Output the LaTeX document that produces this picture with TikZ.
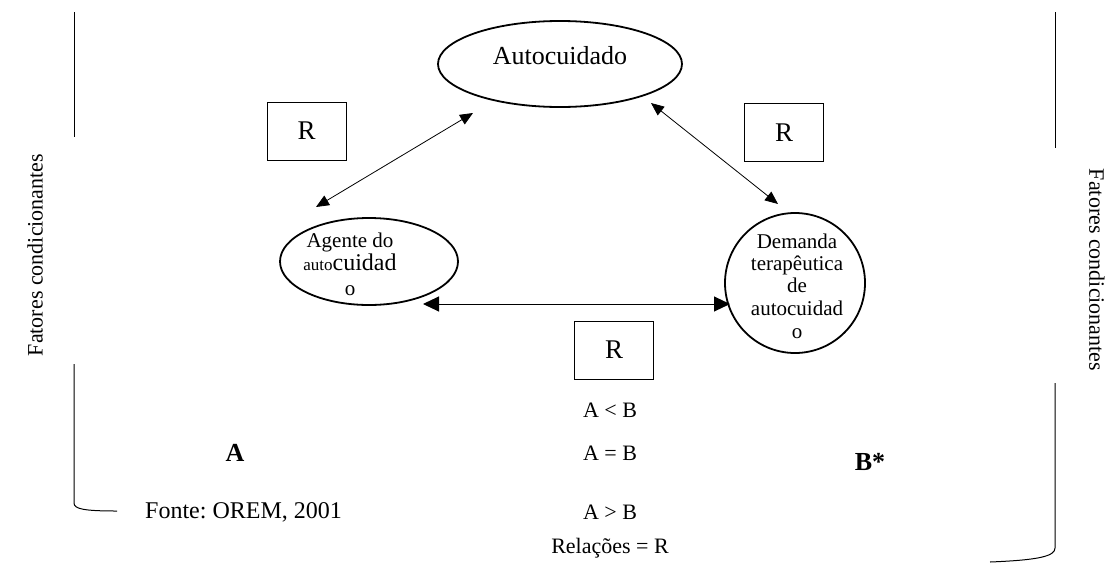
\documentclass[tikz,border=0pt]{standalone}
\usepackage{fontspec}
\setmainfont{Liberation Serif}
\usetikzlibrary{shapes.geometric,arrows.meta}
\frenchspacing
\begin{document}
\begin{tikzpicture}[x=1pt,y=-1pt,
  ell/.style={draw,ellipse,line width=1.8pt,inner sep=0pt},
  rbox/.style={draw,line width=0.8pt,minimum width=79pt,minimum height=58pt,inner sep=0pt,font=\fontsize{27}{30}\selectfont},
  conn/.style={line width=0.8pt,{Triangle[length=13pt,width=11pt]}-{Triangle[length=13pt,width=11pt]}},
  bigconn/.style={line width=1pt,{Triangle[length=16pt,width=15pt]}-{Triangle[length=16pt,width=15pt]}},
  brk/.style={line width=1pt},
  txt/.style={inner sep=0pt,anchor=base},
  ftA/.style={font=\fontsize{21}{24}\selectfont},
  ftS/.style={font=\fontsize{22}{24}\selectfont},
  ftB/.style={font=\fontsize{22}{26}\selectfont},
  ftBold/.style={font=\fontsize{26}{30}\selectfont\bfseries}
]
\useasboundingbox (0,0) rectangle (1110,565);

% brackets
\draw[brk] (74,12) -- (74,137);
\draw[brk] (74,364) -- (74,503) .. controls (74,509) and (84,511) .. (117,511);
\draw[brk] (1055,12) -- (1055,148);
\draw[brk] (1055,383) -- (1055,548) .. controls (1055,556) and (1040,560) .. (990,562);

% side labels
\node[ftS,rotate=90] (fl) at (35,255) {Fatores condicionantes};
\node[ftS,rotate=-90,inner sep=1pt] (fr) at (1097,270) {Fatores condicionantes};

% ellipses
\node[ell,minimum width=244pt,minimum height=86pt] (auto) at (560,64) {};
\node[txt,font=\fontsize{26}{30}\selectfont] (autot) at (560,64) {Autocuidado};

\node[ell,minimum width=178pt,minimum height=87pt] (agent) at (369,261.5) {};
\node[txt,ftA] (ag1) at (350,247) {Agente do};
\node[txt] (ag2) at (350,270) {{\fontsize{17}{20}\selectfont auto}{\fontsize{24}{26}\selectfont cuidad}};
\node[txt,ftA] (ag3) at (350,295) {o};

\node[ell,minimum width=140pt,minimum height=140pt] (dem) at (795,283) {};
\node[txt,ftA] (d1) at (797,248) {Demanda};
\node[txt,ftA] (d2) at (797,270) {terapêutica};
\node[txt,ftA] (d3) at (797,292) {de};
\node[txt,ftA] (d4) at (797,315) {autocuidad};
\node[txt,ftA] (d5) at (797,338) {o};

% R boxes
\node[rbox] (r1) at (306.5,131) {R};
\node[rbox] (r2) at (784,132.5) {R};
\node[rbox] (r3) at (614,350) {R};

% connectors
\coordinate (p1) at (473,113);
\coordinate (p2) at (316,207);
\draw[conn] (p2) -- (p1);
\coordinate (q1) at (651,103);
\coordinate (q2) at (778,204);
\draw[conn] (q1) -- (q2);
\coordinate (h1) at (423,304);
\coordinate (h2) at (730,304);
\draw[bigconn] (h1) -- (h2);

% bottom texts
\node[ftB] (c1) at (610,410) {A < B};
\node[ftB] (c2) at (610,453) {A = B};
\node[ftB] (c3) at (610,512) {A > B};
\node[ftB] (c4) at (610,548) {Relações = R};
\node[ftBold] (la) at (235,453) {A};
\node[ftBold] (lb) at (870,462) {B*};
\node[anchor=west,inner sep=0pt,font=\fontsize{24}{28}\selectfont] (src) at (145,512) {Fonte: OREM, 2001};
\end{tikzpicture}
\end{document}
